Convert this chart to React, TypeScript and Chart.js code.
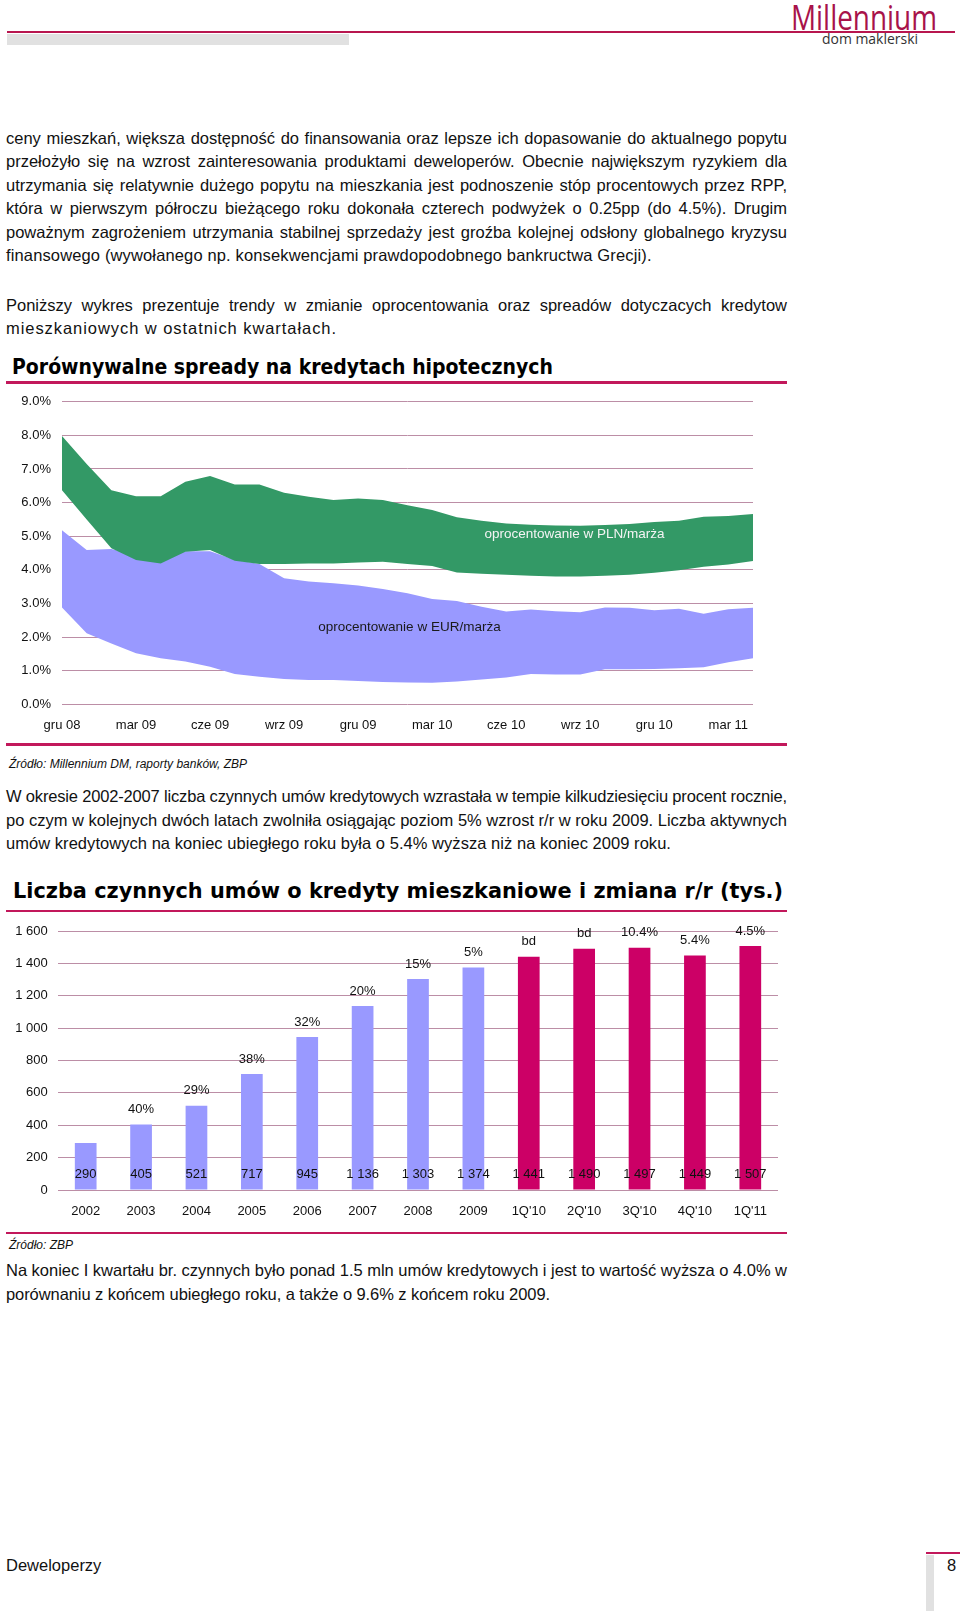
import React, { useEffect, useLayoutEffect, useMemo, useRef } from 'react';
import { Chart, registerables } from 'chart.js';

Chart.register(...registerables);

// ---------- Chart 1 data: comparable spreads on mortgage loans ----------
const spreadMonths = [
  'gru 08', 'sty 09', 'lut 09', 'mar 09', 'kwi 09', 'maj 09', 'cze 09', 'lip 09', 'sie 09', 'wrz 09',
  'paź 09', 'lis 09', 'gru 09', 'sty 10', 'lut 10', 'mar 10', 'kwi 10', 'maj 10', 'cze 10', 'lip 10',
  'sie 10', 'wrz 10', 'paź 10', 'lis 10', 'gru 10', 'sty 11', 'lut 11', 'mar 11', 'kwi 11',
];
const plnRateHigh = [
  7.98, 7.15, 6.37, 6.19, 6.19, 6.62, 6.79, 6.54, 6.54, 6.29, 6.17, 6.08, 6.12, 6.08, 5.92,
  5.78, 5.56, 5.46, 5.38, 5.34, 5.32, 5.31, 5.33, 5.36, 5.42, 5.46, 5.58, 5.6, 5.66,
];
const plnRateLow = [
  6.37, 5.5, 4.64, 4.29, 4.19, 4.54, 4.59, 4.27, 4.17, 4.17, 4.19, 4.19, 4.22, 4.24, 4.17,
  4.11, 3.92, 3.88, 3.85, 3.82, 3.8, 3.8, 3.82, 3.85, 3.91, 3.99, 4.09, 4.16, 4.26,
];
const eurRateHigh = [
  5.18, 4.59, 4.62, 4.45, 4.35, 4.55, 4.55, 4.3, 4.17, 3.75, 3.65, 3.6, 3.53, 3.43, 3.3,
  3.13, 3.07, 2.9, 2.76, 2.82, 2.77, 2.74, 2.88, 2.87, 2.8, 2.84, 2.69, 2.83, 2.87,
];
const eurRateLow = [
  2.88, 2.11, 1.81, 1.52, 1.37, 1.27, 1.12, 0.9, 0.82, 0.75, 0.72, 0.72, 0.69, 0.66, 0.65,
  0.64, 0.68, 0.74, 0.8, 0.9, 0.89, 0.89, 1.04, 1.04, 1.05, 1.07, 1.1, 1.25, 1.37,
];
const spreadTickStep = 3;
const spreadYMax = 9;

// ---------- Chart 2 data: active mortgage contracts (thousands) ----------
const contractPeriods = ['2002', '2003', '2004', '2005', '2006', '2007', '2008', '2009', "1Q'10", "2Q'10", "3Q'10", "4Q'10", "1Q'11"];
const contractCounts = [290, 405, 521, 717, 945, 1136, 1303, 1374, 1441, 1490, 1497, 1449, 1507];
const contractChange = ['', '40%', '29%', '38%', '32%', '20%', '15%', '5%', 'bd', 'bd', '10.4%', '5.4%', '4.5%'];
const contractYMax = 1600;
const contractYStep = 200;

// ---------- Text ----------
const para1 = [
  'ceny mieszkań, większa dostępność do finansowania oraz lepsze ich dopasowanie do aktualnego popytu',
  'przełożyło się na wzrost zainteresowania produktami deweloperów. Obecnie największym ryzykiem dla',
  'utrzymania się relatywnie dużego popytu na mieszkania jest podnoszenie stóp procentowych przez RPP,',
  'która w pierwszym półroczu bieżącego roku dokonała czterech podwyżek o 0.25pp (do 4.5%). Drugim',
  'poważnym zagrożeniem utrzymania stabilnej sprzedaży jest groźba kolejnej odsłony globalnego kryzysu',
  'finansowego (wywołanego np. konsekwencjami prawdopodobnego bankructwa Grecji).',
];
const para2 = [
  'Poniższy wykres prezentuje trendy w zmianie oprocentowania oraz spreadów dotyczacych kredytow',
  'mieszkaniowych w ostatnich kwartałach.',
];
const para3 = [
  'W okresie 2002-2007 liczba czynnych umów kredytowych wzrastała w tempie kilkudziesięciu procent rocznie,',
  'po czym w kolejnych dwóch latach zwolniła osiągając poziom 5% wzrost r/r w roku 2009. Liczba aktywnych',
  'umów kredytowych na koniec ubiegłego roku była o 5.4% wyższa niż na koniec 2009 roku.',
];
const para4 = [
  'Na koniec I kwartału br. czynnych było ponad 1.5 mln umów kredytowych i jest to wartość wyższa o 4.0% w',
  'porównaniu z końcem ubiegłego roku, a także o 9.6% z końcem roku 2009.',
];

const BODY_FONT = '"Liberation Sans", Arial, sans-serif';
const BODY_SIZE = 16.5;
const TEXT_WIDTH = 781;
const MAGENTA = '#C2185B';
const GRID = '#bc8ea6';
const GREEN = '#339966';
const LAVENDER = '#9999FF';
const BAR_MAGENTA = '#CC0066';

function fmtThousands(v: number): string {
  return String(v).replace(/\B(?=(\d{3})+(?!\d))/g, ' ');
}

let measureCtx: CanvasRenderingContext2D | null = null;
function measure(text: string, font: string): number {
  if (!measureCtx) measureCtx = document.createElement('canvas').getContext('2d');
  if (!measureCtx) return 0;
  measureCtx.font = font;
  return measureCtx.measureText(text).width;
}

function FitText(props: { text: string; left: number; cy: number; width: number; size: number; lh?: number; style?: React.CSSProperties }) {
  const { text, left, cy, width, size, style } = props;
  const lh = props.lh ?? Math.round(size * 1.4);
  const ref = useRef<HTMLSpanElement>(null);
  useLayoutEffect(() => {
    const fit = () => {
      const el = ref.current;
      if (!el) return;
      el.style.transform = 'none';
      const w = el.getBoundingClientRect().width;
      if (w > 0) el.style.transform = `scaleX(${width / w})`;
    };
    fit();
    if ((document as any).fonts && (document as any).fonts.ready) (document as any).fonts.ready.then(fit);
  }, [text, width]);
  return (
    <div style={{ position: 'absolute', left, top: cy - lh / 2, height: lh, lineHeight: lh + 'px', whiteSpace: 'nowrap', fontSize: size, ...style }}>
      <span ref={ref} style={{ display: 'inline-block', transformOrigin: '0 50%' }}>{text}</span>
    </div>
  );
}

function TextLine({ text, y, lastWidth }: { text: string; y: number; lastWidth?: number }) {
  const justify = lastWidth === undefined;
  const ls = useMemo(() => {
    const natural = measure(text, `${BODY_SIZE}px ${BODY_FONT}`);
    const target = justify ? TEXT_WIDTH : (lastWidth as number);
    if (natural <= 0) return 0;
    if (justify) return natural > target ? (target - natural) / text.length : 0;
    return (target - natural) / text.length;
  }, [text, lastWidth]);
  return (
    <div
      style={{
        position: 'absolute', left: 6, top: y - 12, width: TEXT_WIDTH + 4, height: 24, lineHeight: '24px',
        fontSize: BODY_SIZE, fontFamily: BODY_FONT, color: '#111', whiteSpace: 'nowrap',
        letterSpacing: ls + 'px',
      }}
    >
      <div style={{ width: TEXT_WIDTH, textAlign: justify ? 'justify' : 'left', textAlignLast: justify ? 'justify' : 'left' } as React.CSSProperties}>{text}</div>
    </div>
  );
}

function Para({ lines, ys, lastWidth }: { lines: string[]; ys: number[]; lastWidth: number }) {
  return (
    <>
      {lines.map((t, i) => (
        <TextLine key={i} text={t} y={ys[i]} lastWidth={i === lines.length - 1 ? lastWidth : undefined} />
      ))}
    </>
  );
}

function SpreadChart() {
  const ref = useRef<HTMLCanvasElement>(null);
  useEffect(() => {
    if (!ref.current) return;
    const labelPlugin = {
      id: 'bandLabels',
      afterDatasetsDraw(chart: any) {
        const { ctx, scales } = chart;
        ctx.save();
        ctx.font = `13.5px ${BODY_FONT}`;
        ctx.textAlign = 'center';
        ctx.textBaseline = 'middle';
        ctx.fillStyle = '#f4f4f4';
        ctx.fillText('oprocentowanie w PLN/marża', scales.x.getPixelForValue(20.77), scales.y.getPixelForValue(5.06));
        ctx.fillStyle = '#1a1a1a';
        ctx.fillText('oprocentowanie w EUR/marża', scales.x.getPixelForValue(14.08), scales.y.getPixelForValue(2.29));
        ctx.restore();
      },
    };
    const base = { borderWidth: 0, borderColor: 'rgba(0,0,0,0)', pointRadius: 0, pointHoverRadius: 0, tension: 0 };
    const chart = new Chart(ref.current, {
      type: 'line',
      data: {
        labels: spreadMonths,
        datasets: [
          { ...base, label: 'PLN min', data: plnRateLow, fill: false },
          { ...base, label: 'PLN max', data: plnRateHigh, fill: '-1', backgroundColor: GREEN },
          { ...base, label: 'EUR min', data: eurRateLow, fill: false },
          { ...base, label: 'EUR max', data: eurRateHigh, fill: '-1', backgroundColor: LAVENDER },
        ],
      },
      options: {
        animation: false,
        responsive: false,
        maintainAspectRatio: false,
        layout: { padding: { top: 11.7, right: 17, left: 0, bottom: 0 } },
        plugins: { legend: { display: false }, tooltip: { enabled: false } },
        scales: {
          x: {
            offset: false,
            grid: { display: false, drawTicks: false },
            border: { display: false },
            ticks: {
              autoSkip: false,
              maxRotation: 0,
              padding: 13,
              color: '#111',
              font: { family: BODY_FONT, size: 13 },
              callback: (_v: any, i: number) => (i % spreadTickStep === 0 ? spreadMonths[i] : ''),
            },
            afterFit: (s: any) => { s.height = 35.7; s.paddingLeft = 0; s.paddingRight = 0; },
          },
          y: {
            min: 0,
            max: spreadYMax,
            grid: { color: GRID, lineWidth: 1, drawTicks: false },
            border: { display: false },
            ticks: {
              stepSize: 1,
              padding: 11,
              color: '#111',
              font: { family: BODY_FONT, size: 13 },
              callback: (v: any) => Number(v).toFixed(1) + '%',
            },
            afterFit: (s: any) => { s.width = 62; s.paddingTop = 0; s.paddingBottom = 0; },
          },
        },
      } as any,
      plugins: [labelPlugin],
    });
    return () => chart.destroy();
  }, []);
  return <canvas ref={ref} width={770} height={350} style={{ position: 'absolute', left: 0, top: 390, width: 770, height: 350 }} />;
}

function ContractsChart() {
  const ref = useRef<HTMLCanvasElement>(null);
  useEffect(() => {
    if (!ref.current) return;
    const labelPlugin = {
      id: 'barLabels',
      afterDatasetsDraw(chart: any) {
        const { ctx, chartArea } = chart;
        const meta = chart.getDatasetMeta(0);
        ctx.save();
        ctx.font = `13px ${BODY_FONT}`;
        ctx.textAlign = 'center';
        ctx.textBaseline = 'middle';
        ctx.fillStyle = '#111';
        meta.data.forEach((bar: any, i: number) => {
          ctx.fillText(fmtThousands(contractCounts[i]), bar.x, chartArea.bottom - 16);
          if (contractChange[i]) ctx.fillText(contractChange[i], bar.x, bar.y - 15);
        });
        ctx.restore();
      },
    };
    const chart = new Chart(ref.current, {
      type: 'bar',
      data: {
        labels: contractPeriods,
        datasets: [
          {
            label: 'umowy',
            data: contractCounts,
            backgroundColor: contractPeriods.map((p) => (p.includes('Q') ? BAR_MAGENTA : LAVENDER)),
            barPercentage: 0.392,
            categoryPercentage: 1,
            borderWidth: 0,
          },
        ],
      },
      options: {
        animation: false,
        responsive: false,
        maintainAspectRatio: false,
        layout: { padding: { top: 16, right: 12, left: 0, bottom: 0 } },
        plugins: { legend: { display: false }, tooltip: { enabled: false } },
        scales: {
          x: {
            grid: { display: false, drawTicks: false },
            border: { display: false },
            ticks: { autoSkip: false, maxRotation: 0, padding: 13.2, color: '#111', font: { family: BODY_FONT, size: 13 } },
            afterFit: (s: any) => { s.height = 45; s.paddingLeft = 0; s.paddingRight = 0; },
          },
          y: {
            min: 0,
            max: contractYMax,
            grid: { color: GRID, lineWidth: 1, drawTicks: false },
            border: { display: false },
            ticks: {
              stepSize: contractYStep,
              padding: 10.3,
              color: '#111',
              font: { family: BODY_FONT, size: 13 },
              callback: (v: any) => fmtThousands(Number(v)),
            },
            afterFit: (s: any) => { s.width = 58; s.paddingTop = 0; s.paddingBottom = 0; },
          },
        },
      } as any,
      plugins: [labelPlugin],
    });
    return () => chart.destroy();
  }, []);
  return <canvas ref={ref} width={790} height={320} style={{ position: 'absolute', left: 0, top: 915, width: 790, height: 320 }} />;
}

export default function App() {
  const rule = (top: number): React.CSSProperties => ({ position: 'absolute', left: 6, top, width: 781, height: 2.5, background: MAGENTA });
  return (
    <div style={{ position: 'absolute', left: 0, top: 0, width: 960, height: 1611, background: '#fff', overflow: 'hidden', fontFamily: BODY_FONT, color: '#111' }}>
      {/* header */}
      <div style={{ position: 'absolute', left: 7, top: 31, width: 948, height: 2, background: '#B8164F' }} />
      <div style={{ position: 'absolute', left: 7, top: 34, width: 342, height: 11, background: '#E1E1E1' }} />
      <FitText text="Millennium" left={791} cy={17} width={146} size={34} lh={36} style={{ fontFamily: '"Open Sans", sans-serif', color: '#A8124A' }} />
      <FitText text="dom maklerski" left={822} cy={38.5} width={96} size={14} lh={16} style={{ fontFamily: '"Open Sans", sans-serif', color: '#333' }} />

      <Para lines={para1} ys={[137.5, 161, 184.5, 208, 231.5, 255]} lastWidth={645.6} />
      <Para lines={para2} ys={[304.5, 328]} lastWidth={331} />

      <FitText text="Porównywalne spready na kredytach hipotecznych" left={12} cy={367} width={541} size={20.5} lh={26} style={{ fontFamily: '"DejaVu Sans", sans-serif', fontWeight: 'bold', color: '#000' }} />
      <div style={rule(381)} />
      <SpreadChart />
      <div style={rule(743)} />
      <div style={{ position: 'absolute', left: 9, top: 756, height: 16, lineHeight: '16px', fontSize: 12, fontStyle: 'italic', whiteSpace: 'nowrap' }}>Źródło: Millennium DM, raporty banków, ZBP</div>

      <Para lines={para3} ys={[796, 819.5, 843]} lastWidth={665} />

      <FitText text="Liczba czynnych umów o kredyty mieszkaniowe i zmiana r/r (tys.)" left={13} cy={891} width={770} size={20.5} lh={26} style={{ fontFamily: '"DejaVu Sans", sans-serif', fontWeight: 'bold', color: '#000' }} />
      <div style={rule(909.5)} />
      <ContractsChart />
      <div style={rule(1231.5)} />
      <div style={{ position: 'absolute', left: 9, top: 1237, height: 16, lineHeight: '16px', fontSize: 12, fontStyle: 'italic', whiteSpace: 'nowrap' }}>Źródło: ZBP</div>

      <Para lines={para4} ys={[1270, 1293.5]} lastWidth={544} />

      {/* footer */}
      <div style={{ position: 'absolute', left: 6, top: 1553, height: 24, lineHeight: '24px', fontSize: 16.5, whiteSpace: 'nowrap' }}>Deweloperzy</div>
      <div style={{ position: 'absolute', left: 926, top: 1552, width: 34, height: 2, background: MAGENTA }} />
      <div style={{ position: 'absolute', left: 926, top: 1555, width: 8, height: 56, background: '#E1E1E1' }} />
      <div style={{ position: 'absolute', left: 947, top: 1553, height: 24, lineHeight: '24px', fontSize: 16.5, whiteSpace: 'nowrap' }}>8</div>
    </div>
  );
}
